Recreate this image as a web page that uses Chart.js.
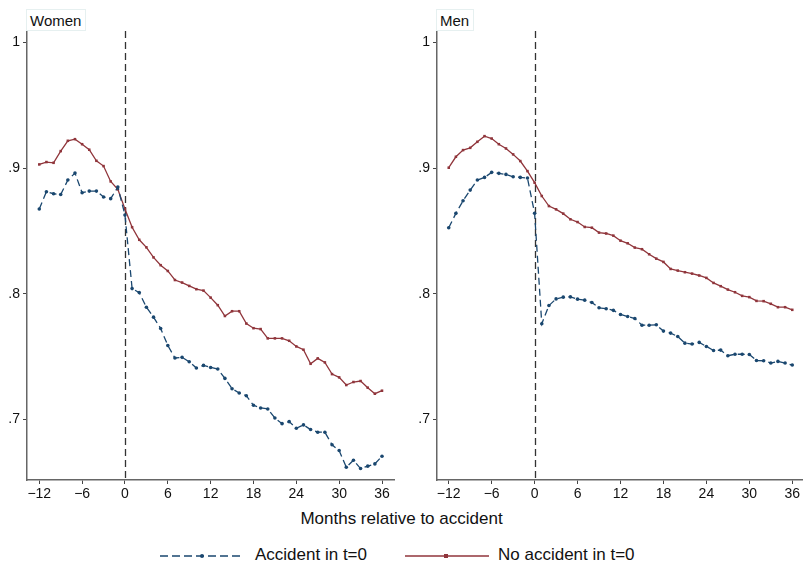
<!DOCTYPE html>
<html>
<head>
<meta charset="utf-8">
<script src="https://cdn.jsdelivr.net/npm/chart.js@4.4.0/dist/chart.umd.min.js"></script>
<style>
  body { margin: 0; background: #fff; font-family: "Liberation Sans", Arial, sans-serif; }
  #wrap { position: relative; width: 803px; height: 571px; overflow: hidden; }
  canvas { position: absolute; top: 0; }
  .panel { position: absolute; top: 9px; height: 22px; line-height: 22px; padding: 0 4px 0 3px;
           font-size: 15px; color: #111; background: #fff; border: 1px solid #e6f0f0; box-sizing: border-box; }
  #xtitle { position: absolute; top: 509px; left: 0; width: 803px; text-align: center; font-size: 17px; color: #111; }
  .leg { position: absolute; top: 545px; font-size: 17px; color: #111; }
  svg { position: absolute; }
</style>
</head>
<body>
<div id="wrap">
  <canvas id="women" width="410" height="505" style="left:0"></canvas>
  <canvas id="men" width="420" height="505" style="left:400px"></canvas>
  <div class="panel" style="left:26px">Women</div>
  <div class="panel" style="left:436px">Men</div>
  <div id="xtitle">Months relative to accident</div>
  <svg width="90" height="10" style="left:158px; top:551px">
    <line x1="2" y1="5" x2="86" y2="5" stroke="#1a476f" stroke-width="1.3" stroke-dasharray="8,4"/>
    <circle cx="44" cy="5" r="2" fill="#1a476f"/>
  </svg>
  <div class="leg" style="left:255px">Accident in t=0</div>
  <svg width="90" height="10" style="left:403px; top:551px">
    <line x1="2" y1="5" x2="86" y2="5" stroke="#90353b" stroke-width="1.3"/>
    <rect x="41" y="3" width="4" height="4" fill="#90353b"/>
  </svg>
  <div class="leg" style="left:498px">No accident in t=0</div>
</div>
<script>
// months relative to accident
const months = [-12, -11, -10, -9, -8, -7, -6, -5, -4, -3, -2, -1, 0,
  1, 2, 3, 4, 5, 6, 7, 8, 9, 10, 11, 12, 13, 14, 15, 16, 17, 18,
  19, 20, 21, 22, 23, 24, 25, 26, 27, 28, 29, 30, 31, 32, 33, 34, 35, 36];
const xTicks = [-12, -6, 0, 6, 12, 18, 24, 30, 36];
const yTicks = [0.7, 0.8, 0.9, 1];

const womenAccident = [.8675, .8812, .8796, .879, .8905, .896, .8804, .8817, .8817, .877, .8757, .8849, .8627,
  .8042, .801, .7894, .7815, .7725, .759, .749, .7495, .746, .741, .7431, .7415, .7402, .7328, .7246, .7212, .719, .7114,
  .7093, .7085, .7013, .6968, .6984, .6931, .6958, .6921, .69, .69, .68, .6754, .6621, .6677, .6611, .663, .6648, .6709];
const womenNoAccident = [.9029, .9048, .9042, .9135, .9217, .923, .919, .9146, .9058, .9016, .8894, .8831, .8675,
  .853, .843, .837, .829, .8228, .8182, .811, .809, .8063, .8037, .8026, .797, .791, .7824, .7862, .7862, .7764, .7727,
  .772, .7646, .7646, .7646, .7627, .7582, .7556, .7444, .7487, .7455, .7362, .7336, .7275, .7299, .7307, .7254, .7206, .723];
const menAccident = [.8526, .864, .874, .8825, .8905, .8926, .8966, .8958, .895, .8931, .8926, .8921, .864,
  .7762, .7907, .796, .7974, .7976, .7958, .795, .7931, .7889, .7882, .7869, .7836, .782, .7804, .7751, .7751, .7754, .7704,
  .7688, .7661, .7608, .7601, .7614, .7582, .755, .7553, .7508, .752, .752, .7518, .747, .7468, .745, .7463, .745, .7434];
const menNoAccident = [.9003, .909, .9143, .9161, .9209, .9254, .9235, .919, .9156, .9109, .9056, .8976, .8884,
  .8778, .8698, .8672, .8638, .8593, .8571, .8532, .8526, .8487, .848, .8463, .8423, .8402, .8368, .8355, .8315, .828, .8254,
  .8198, .8185, .8172, .8161, .8146, .8127, .8087, .8061, .8034, .8013, .7984, .7974, .7944, .7942, .7921, .7894, .7894, .7873];

const blue = '#1a476f';
const red = '#90353b';
const font = { family: '"Liberation Sans", Arial, sans-serif', size: 14 };

// dashed vertical line at the accident month
const zeroLine = {
  id: 'zeroLine',
  beforeDatasetsDraw(chart) {
    const { ctx, chartArea: a, scales: { x } } = chart;
    const px = Math.round(x.getPixelForValue(0)) + 0.5;
    ctx.save();
    ctx.setLineDash([7, 4]);
    ctx.strokeStyle = '#333';
    ctx.lineWidth = 1.3;
    ctx.beginPath();
    ctx.moveTo(px, a.top);
    ctx.lineTo(px, a.bottom);
    ctx.stroke();
    ctx.restore();
  }
};

function makePanel(id, accident, noAccident, yWidth, rightPad, xMin, xMax) {
  new Chart(document.getElementById(id), {
    type: 'line',
    data: {
      datasets: [
        {
          label: 'Accident in t=0',
          data: months.map((m, i) => ({ x: m, y: accident[i] })),
          borderColor: blue, backgroundColor: blue,
          borderWidth: 1.3, borderDash: [7, 4],
          pointStyle: 'circle', pointRadius: 1.8, pointBorderWidth: 0
        },
        {
          label: 'No accident in t=0',
          data: months.map((m, i) => ({ x: m, y: noAccident[i] })),
          borderColor: red, backgroundColor: red,
          borderWidth: 1.3,
          pointStyle: 'rect', pointRadius: 1.8, pointBorderWidth: 0
        }
      ]
    },
    options: {
      responsive: false,
      animation: false,
      layout: { padding: { top: 31, right: rightPad, left: 0, bottom: 0 } },
      plugins: { legend: { display: false }, tooltip: { enabled: false } },
      scales: {
        x: {
          type: 'linear', min: xMin, max: xMax,
          afterBuildTicks: s => { s.ticks = xTicks.map(v => ({ value: v })); },
          afterFit: s => { s.height = 25; },
          ticks: { font, color: '#111', padding: 2, maxRotation: 0,
                   callback: v => v < 0 ? '\u2212' + Math.abs(v) : String(v) },
          grid: { drawOnChartArea: false, tickLength: 4, color: '#444' },
          border: { color: '#666', width: 1.5 }
        },
        y: {
          min: 0.652, max: 1.009,
          afterBuildTicks: s => { s.ticks = yTicks.map(v => ({ value: v })); },
          afterFit: s => { s.width = yWidth; },
          ticks: { font, color: '#111', padding: 3,
                   callback: v => v === 1 ? '1' : v.toFixed(1).replace(/^0/, '') },
          grid: { drawOnChartArea: false, tickLength: 4, color: '#444' },
          border: { color: '#666', width: 1.5 }
        }
      }
    },
    plugins: [zeroLine]
  });
}

makePanel('women', womenAccident, womenNoAccident, 27, 16, -13.72, 37.68);
makePanel('men', menAccident, menNoAccident, 37, 17, -13.64, 37.5);
</script>
</body>
</html>
